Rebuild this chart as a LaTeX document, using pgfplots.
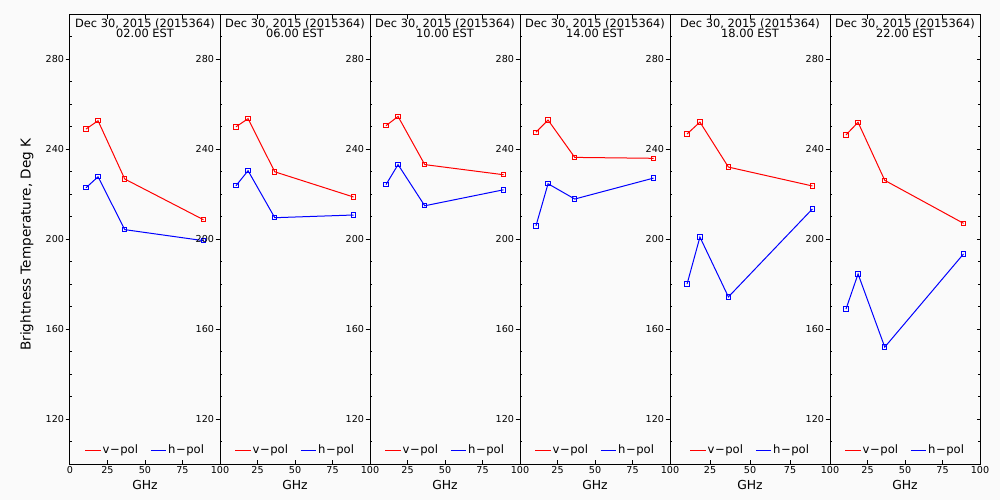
\documentclass[border=0pt]{standalone}
\usepackage{pgfplots}
\pgfplotsset{compat=1.18}
\usepackage{fontspec}
\setmainfont{DejaVu Sans}
\definecolor{bg}{RGB}{250,250,250}
\definecolor{vred}{RGB}{255,0,0}
\definecolor{hblue}{RGB}{0,0,255}

\pgfplotsset{
  panel/.style={
    scale only axis,
    width=75pt, height=225pt,
    anchor=south west,
    xmin=0, xmax=100, ymin=100, ymax=300,
    enlargelimits=false,
    axis line style={line width=0.5pt},
    every tick/.style={black, line width=0.5pt},
    xtick={0,25,50,75,100},
    xtick pos=both, xtick align=inside,
    major tick length=2.2pt,
    ytick={120,160,200,240,280},
    ytick pos=left, ytick align=outside,
    extra y ticks={110,130,140,150,170,180,190,210,220,230,250,260,270,290},
    extra y tick labels={},
    extra y tick style={ytick align=inside, major tick length=1.2pt},
    tick label style={font=\fontsize{4.8}{5}\selectfont},
    yticklabel style={inner sep=0.6pt},
    xticklabel style={inner sep=0.6pt, yshift=-0.4pt},
    /pgf/number format/assume math mode=true,
    xlabel={GHz},
    xlabel style={font=\fontsize{6.2}{7}\selectfont, at={(axis description cs:0.5,0)}, anchor=center, yshift=-10.5pt},
    legend style={draw=none, fill=none, at={(axis description cs:0.5,0.030)}, anchor=center,
      font=\fontsize{5.8}{6}\selectfont, legend columns=2,
      /tikz/every even column/.append style={column sep=5.5pt},
      nodes={inner sep=0.6pt}},
    legend cell align=left,
    legend image code/.code={\draw[#1, mark=none] (0pt,0pt) -- (7.8pt,0pt);},
    vstyle/.style={vred, line width=0.5pt, mark=square, mark size=1.1pt, mark options={solid, line width=0.5pt}},
    hstyle/.style={hblue, line width=0.5pt, mark=square, mark size=1.1pt, mark options={solid, line width=0.5pt}},
  },
  ptitle/.style={
    title={Dec 30, 2015 (2015364)\\#1 EST},
    title style={at={(axis description cs:0.5,1)}, anchor=north, yshift=-7.2pt, font=\fontsize{5.7}{5}\selectfont, align=center, inner sep=1pt},
  }
}

\begin{document}
\begin{tikzpicture}
\fill[bg] (0,0) rectangle (500pt,250pt);

% Panel 1
\begin{axis}[panel, at={(35pt,17.85pt)}, ptitle={02.00},
  xticklabels={0,25,50,75,100},
  ylabel={Brightness Temperature, Deg K},
  ylabel style={at={(axis description cs:-0.287,0.488)}, anchor=center, font=\fontsize{6.8}{7}\selectfont}]
\addplot[vstyle] coordinates {(10.65,249.0) (18.7,252.7) (36.5,226.8) (89.0,208.7)};
\addplot[hstyle] coordinates {(10.65,222.9) (18.7,227.8) (36.5,204.3) (89.0,199.4)};
\legend{v\kern0.3pt−\kern0.3pt pol, h\kern0.3pt−\kern0.3pt pol}
\end{axis}

% Panel 2
\begin{axis}[panel, at={(110pt,17.85pt)}, ptitle={06.00},
  xticklabels={,25,50,75,100}]
\addplot[vstyle] coordinates {(10.65,250.0) (18.7,253.6) (36.5,230.0) (89.0,218.8)};
\addplot[hstyle] coordinates {(10.65,223.8) (18.7,230.5) (36.5,209.6) (89.0,210.8)};
\legend{v\kern0.3pt−\kern0.3pt pol, h\kern0.3pt−\kern0.3pt pol}
\end{axis}

% Panel 3
\begin{axis}[panel, at={(185pt,17.85pt)}, ptitle={10.00},
  xticklabels={,25,50,75,100}]
\addplot[vstyle] coordinates {(10.65,250.5) (18.7,254.6) (36.5,233.2) (89.0,228.7)};
\addplot[hstyle] coordinates {(10.65,224.3) (18.7,233.2) (36.5,214.9) (89.0,222.0)};
\legend{v\kern0.3pt−\kern0.3pt pol, h\kern0.3pt−\kern0.3pt pol}
\end{axis}

% Panel 4
\begin{axis}[panel, at={(260pt,17.85pt)}, ptitle={14.00},
  xticklabels={,25,50,75,100}]
\addplot[vstyle] coordinates {(10.65,247.6) (18.7,253.0) (36.5,236.4) (89.0,236.0)};
\addplot[hstyle] coordinates {(10.65,206.0) (18.7,224.7) (36.5,217.9) (89.0,227.2)};
\legend{v\kern0.3pt−\kern0.3pt pol, h\kern0.3pt−\kern0.3pt pol}
\end{axis}

% Panel 5
\begin{axis}[panel, at={(335pt,17.85pt)}, width=80pt, ptitle={18.00},
  xticklabels={,25,50,75,100}]
\addplot[vstyle] coordinates {(10.65,246.8) (18.7,252.1) (36.5,232.1) (89.0,223.7)};
\addplot[hstyle] coordinates {(10.65,180.1) (18.7,201.0) (36.5,174.4) (89.0,213.5)};
\legend{v\kern0.3pt−\kern0.3pt pol, h\kern0.3pt−\kern0.3pt pol}
\end{axis}

% Panel 6
\begin{axis}[panel, at={(415pt,17.85pt)}, ptitle={22.00},
  xticklabels={,25,50,75,100}]
\addplot[vstyle] coordinates {(10.65,246.4) (18.7,252.0) (36.5,226.2) (89.0,207.1)};
\addplot[hstyle] coordinates {(10.65,169.0) (18.7,184.6) (36.5,152.1) (89.0,193.5)};
\legend{v\kern0.3pt−\kern0.3pt pol, h\kern0.3pt−\kern0.3pt pol}
\end{axis}

% right-hand ticks of panel 6 (inward)
\begin{axis}[scale only axis, width=75pt, height=225pt, anchor=south west, at={(415pt,17.85pt)},
  xmin=0, xmax=100, ymin=100, ymax=300,
  axis x line=none, axis y line*=right,
  axis line style={line width=0.5pt, -},
  every tick/.style={black, line width=0.5pt},
  ytick={120,160,200,240,280}, yticklabels={},
  ytick align=inside, major tick length=1.7pt,
  extra y ticks={110,130,140,150,170,180,190,210,220,230,250,260,270,290},
  extra y tick labels={},
  extra y tick style={major tick length=1.0pt}]
\end{axis}
\pgfresetboundingbox
\useasboundingbox (0,0) rectangle (500pt,250pt);
\end{tikzpicture}
\end{document}
